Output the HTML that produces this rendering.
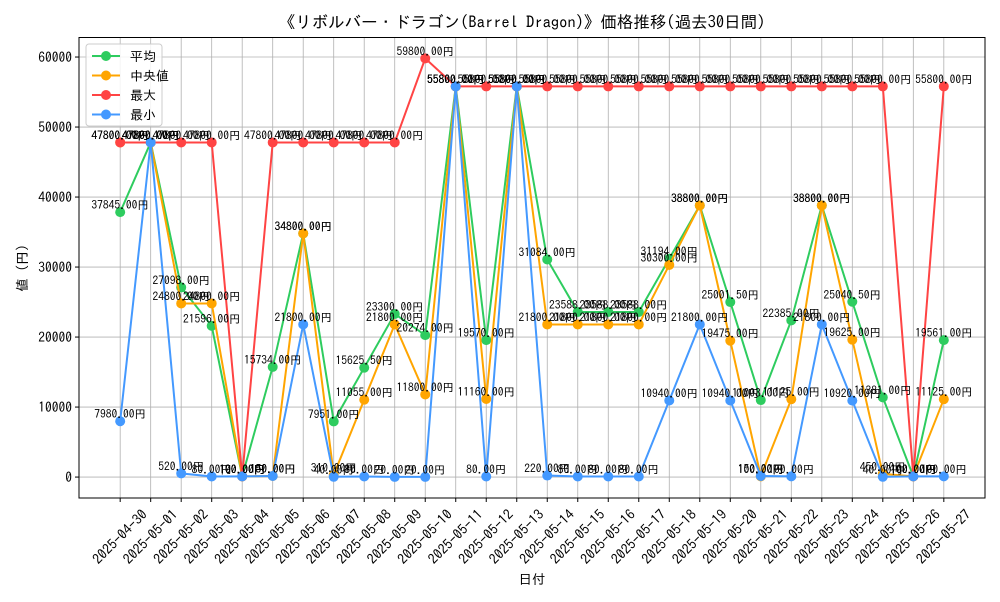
<!DOCTYPE html>
<html><head><meta charset="utf-8"><style>
body{margin:0;background:#fff;font-family:"IPAGothic","Noto Sans CJK JP",sans-serif;}
svg text{font-family:"IPAGothic","Noto Sans CJK JP",sans-serif;}
</style></head><body>
<svg id="c" width="1000" height="600" xmlns="http://www.w3.org/2000/svg"></svg>
<script>
const dates=["2025-04-30","2025-05-01","2025-05-02","2025-05-03","2025-05-04","2025-05-05","2025-05-06","2025-05-07","2025-05-08","2025-05-09","2025-05-10","2025-05-11","2025-05-12","2025-05-13","2025-05-14","2025-05-15","2025-05-16","2025-05-17","2025-05-18","2025-05-19","2025-05-20","2025-05-21","2025-05-22","2025-05-23","2025-05-24","2025-05-25","2025-05-26","2025-05-27"];
const avgVals=[37845,47800,27098,21596,100,15734,34800,7951,15625.5,23300,20274,55800,19570,55800,31084,23588,23588,23588,31194,38800,25001.5,11003,22385,38800,25040.5,11381,100,19561];
const medVals=[47800,47800,24800,24800,100,150,34800,310,11055,21800,11800,55800,11160,55800,21800,21800,21800,21800,30300,38800,19475,100,11125,38800,19625,450,100,11125];
const maxVals=[47800,47800,47800,47800,100,47800,47800,47800,47800,47800,59800,55800,55800,55800,55800,55800,55800,55800,55800,55800,55800,55800,55800,55800,55800,55800,100,55800];
const minVals=[7980,47800,520,80,100,150,21800,40,80,20,20,55800,80,55800,220,80,80,80,10940,21800,10940,150,100,21800,10920,40,100,100];
const yTicks=[0,10000,20000,30000,40000,50000,60000];
const L=79,R=985,T=37.5,B=498;
const xMin=-1.35,xMax=28.35,yMin=-2990,yMax=62790;
const X=i=>L+(i-xMin)/(xMax-xMin)*(R-L);
const Y=v=>B-(v-yMin)/(yMax-yMin)*(B-T);
const svg=document.getElementById('c');const NS="http://www.w3.org/2000/svg";
function mk(t,a,txt){const e=document.createElementNS(NS,t);for(const k in a)e.setAttribute(k,a[k]);if(txt!=null)e.textContent=txt;svg.appendChild(e);return e;}
let e;
e=mk('text',{x:522,y:28,'text-anchor':'middle','font-size':16.5},'《リボルバー・ドラゴン(Barrel Dragon)》価格推移(過去30日間)');

dates.forEach((d,i)=>{
 e=mk('line',{x1:X(i),x2:X(i),y1:T,y2:B,stroke:'#b0b0b0','stroke-width':0.8});
 
 mk('line',{x1:X(i),x2:X(i),y1:B,y2:B+4,stroke:'#000'});
 const cx=X(i),cy=B+39;
 e=mk('text',{x:cx,y:cy+4.5,'font-size':14,'text-anchor':'middle',transform:`rotate(-45 ${cx} ${cy})`},d);
 
});
yTicks.forEach(v=>{
 e=mk('line',{x1:L,x2:R,y1:Y(v),y2:Y(v),stroke:'#b0b0b0','stroke-width':0.8});
 
 mk('line',{x1:L-4,x2:L,y1:Y(v),y2:Y(v),stroke:'#000'});
 e=mk('text',{x:L-7,y:Y(v)+5,'font-size':13.5,'text-anchor':'end'},v);
 
});
e=mk('rect',{x:L,y:T,width:R-L,height:B-T,fill:'none',stroke:'#000'});

e=mk('text',{x:532,y:584,'font-size':13.5,'text-anchor':'middle'},'日付');

e=mk('text',{x:27,y:268,'font-size':13.5,'text-anchor':'middle',transform:'rotate(-90 27 268)'},'値 (円)');

const series=[[avgVals,'#2ecc5f','平均','avg'],[medVals,'#ffa500','中央値','median'],[maxVals,'#ff4444','最大','max'],[minVals,'#4499ff','最小','min']];
series.forEach(([vals,col,lab,key])=>{
 const pts=vals.map((v,i)=>X(i)+','+Y(v)).join(' ');
 e=mk('polyline',{points:pts,fill:'none',stroke:col,'stroke-width':2});
 
 vals.forEach((v,i)=>{
  e=mk('circle',{cx:X(i),cy:Y(v),r:5,fill:col});
  
 });
});
series.forEach(([vals,col,lab,key])=>{
 vals.forEach((v,i)=>{
  e=mk('text',{x:X(i),y:Y(v)-3,'font-size':11.5,'text-anchor':'middle'},v.toFixed(2)+'円');
  
 });
});
e=mk('rect',{x:86,y:44,width:76,height:82,fill:'#fff','fill-opacity':0.85,stroke:'#ccc',rx:3});

series.forEach(([vals,col,lab,key],k)=>{
 const yy=56+k*19.5;
 mk('line',{x1:92,x2:120,y1:yy,y2:yy,stroke:col,'stroke-width':2});
 mk('circle',{cx:106,cy:yy,r:5,fill:col});
 e=mk('text',{x:130,y:yy+5,'font-size':13},lab);
 
});
</script>
</body></html>
